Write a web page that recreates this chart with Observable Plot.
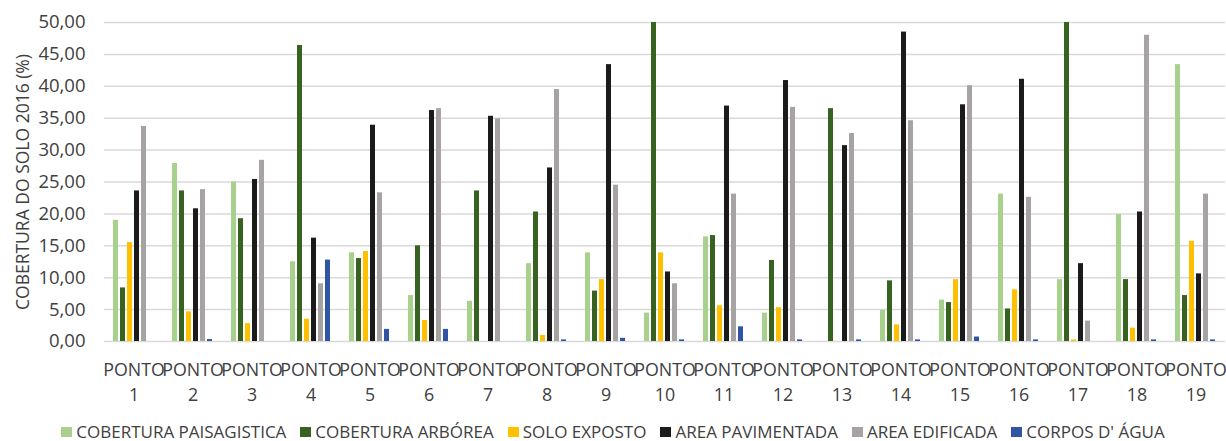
<!DOCTYPE html>
<html>
<head>
<meta charset="utf-8">
<script src="https://cdn.jsdelivr.net/npm/d3@7"></script>
<script src="https://cdn.jsdelivr.net/npm/@observablehq/plot@0.6"></script>
<style>
  body { margin: 0; background: #fff; font-family: "Open Sans", Lato, sans-serif; }
  #chart svg { display: block; }
  #legend { display: flex; justify-content: center; gap: 14px; height: 18px; line-height: 18px;
            font-size: 17px; color: #404040; white-space: nowrap; padding-left: 0; }
  #legend .item { display: flex; align-items: center; }
  #legend .sw { width: 11px; height: 10px; margin-right: 4px; display: inline-block; }
</style>
</head>
<body>
<div id="chart"></div>
<div id="legend"></div>
<script>
// Sampling points
const pontos = [1, 2, 3, 4, 5, 6, 7, 8, 9, 10, 11, 12, 13, 14, 15, 16, 17, 18, 19];

// Land cover classes (legend order)
const categorias = [
  "COBERTURA PAISAGISTICA",
  "COBERTURA ARBÓREA",
  "SOLO EXPOSTO",
  "AREA PAVIMENTADA",
  "AREA EDIFICADA",
  "CORPOS D' ÁGUA"
];
const cores = ["#a9d18e", "#38621f", "#ffc000", "#1b1b1b", "#a7a3a3", "#2f55a4"];

// Percent cover per point, 2016
const paisagistica = [19.0, 27.9, 25.0, 12.5, 13.9, 7.2, 6.3, 12.2, 13.9, 4.45, 16.4, 4.45, 0, 4.9, 6.5, 23.1, 9.7, 19.9, 43.4];
const arborea      = [8.4, 23.6, 19.25, 46.4, 13.0, 15.0, 23.6, 20.3, 7.9, 50.0, 16.6, 12.7, 36.5, 9.5, 6.1, 5.1, 50.0, 9.7, 7.2];
const soloExposto  = [15.5, 4.65, 2.8, 3.5, 14.1, 3.3, 0, 0.95, 9.7, 13.9, 5.6, 5.3, 0, 2.6, 9.7, 8.1, 0.25, 2.1, 15.7];
const pavimentada  = [23.6, 20.8, 25.4, 16.2, 33.9, 36.2, 35.3, 27.2, 43.4, 10.9, 36.9, 40.9, 30.7, 48.5, 37.1, 41.1, 12.2, 20.3, 10.6];
const edificada    = [33.7, 23.8, 28.4, 9.05, 23.3, 36.5, 34.9, 39.5, 24.5, 9.05, 23.1, 36.7, 32.6, 34.6, 40.1, 22.6, 3.2, 48.0, 23.1];
const agua         = [0, 0.3, 0, 12.76, 1.9, 1.9, 0, 0.25, 0.5, 0.25, 2.3, 0.25, 0.25, 0.25, 0.7, 0.25, 0, 0.25, 0.25];

const yTicks = [0, 5, 10, 15, 20, 25, 30, 35, 40, 45, 50];

const series = [paisagistica, arborea, soloExposto, pavimentada, edificada, agua];
const rows = [];
pontos.forEach((p, i) => {
  categorias.forEach((c, j) => rows.push({ponto: p, classe: c, valor: series[j][i]}));
});

const textColor = "#404040";

const chart = Plot.plot({
  width: 1226,
  height: 423,
  marginTop: 22,
  marginBottom: 82,
  marginLeft: 102,
  marginRight: 0,
  style: { fontFamily: "'Open Sans', Lato, sans-serif", color: textColor, background: "#fff" },
  fx: { domain: pontos, padding: 0, label: null },
  x: { domain: categorias, paddingInner: 0.27, paddingOuter: 0.93, axis: null },
  y: { domain: [0, 50], labelArrow: false },
  color: { domain: categorias, range: cores },
  marks: [
    Plot.gridY(yTicks, { stroke: "#d9d9d9", strokeOpacity: 1, strokeWidth: 1.5 }),
    Plot.barY(rows, { fx: "ponto", x: "classe", y: "valor", fill: "classe" }),
    Plot.axisY({
      ticks: yTicks, tickSize: 0, tickPadding: 19, fontSize: 18.5,
      tickFormat: d => d.toFixed(2).replace(".", ","),
      label: "COBERTURA DO SOLO 2016 (%)", labelArrow: false, labelAnchor: "center", labelOffset: 88
    }),
    Plot.axisFx({
      anchor: "bottom", tickSize: 0, tickPadding: 17, fontSize: 17.8, lineHeight: 1.4,
      tickFormat: d => `PONTO\n${d}`, label: null
    })
  ]
});
// y-axis title size
chart.querySelectorAll("g[aria-label='y-axis label'] text").forEach(t => t.setAttribute("font-size", "17.5"));
document.getElementById("chart").appendChild(chart);

// Legend
const legend = document.getElementById("legend");
categorias.forEach((c, j) => {
  const item = document.createElement("span");
  item.className = "item";
  const sw = document.createElement("span");
  sw.className = "sw";
  sw.style.background = cores[j];
  item.appendChild(sw);
  item.appendChild(document.createTextNode(c));
  legend.appendChild(item);
});
</script>
</body>
</html>
